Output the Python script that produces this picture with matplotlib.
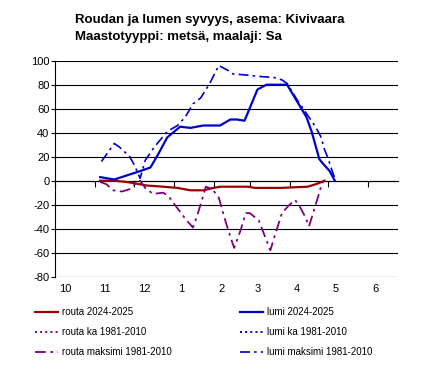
import numpy as np
import matplotlib.pyplot as plt
import matplotlib.transforms as mtransforms

plt.rcParams['font.family'] = ['Liberation Sans', 'DejaVu Sans']
plt.rcParams['axes.unicode_minus'] = False

# x = days since 1 October
month_starts = [0, 31, 61, 92, 123, 151, 182, 212, 243]
month_labels = ['10', '11', '12', '1', '2', '3', '4', '5', '6']

lumi_x = [35, 46, 66, 74, 80, 87, 97, 105, 115, 128, 136, 141, 147, 157, 164,
          180, 195, 199, 205, 208, 213, 217]
lumi_y = [3, 1, 8, 11, 22, 36, 45, 44, 46, 46, 51, 51, 50, 76, 80,
          80, 53, 41, 18, 14, 8, 0]

lumi_max_x = [36, 46, 50, 58, 62, 66, 70, 77, 87, 95, 101, 107, 113, 120, 127,
              134, 138, 149, 157, 170, 176, 180, 188, 195, 202, 206, 209, 212,
              214, 217, 218]
lumi_max_y = [16, 31, 28, 20, 12, 2, 17, 28, 41, 46, 53, 64, 69, 81, 96,
              92, 89, 88, 87, 86, 84, 81, 67, 56, 45, 37, 26, 18,
              11, 2, 0]

lumi_ka_x = []
lumi_ka_y = []

routa_x = [35, 46, 55, 61, 71, 84, 95, 100, 105, 115, 123, 128, 140, 150, 155,
           175, 196, 202, 207, 209]
routa_y = [0, 0, -1, -2, -4, -5, -6, -7, -8, -8, -6, -5, -5, -5, -6,
           -6, -5, -3, -1, 0]

routa_max_x = [35, 40, 45, 52, 58, 62, 66, 70, 76, 84, 88, 95, 102, 107, 110,
               114, 117, 122, 127, 132, 137, 139, 144, 148, 151, 158, 163, 167,
               171, 176, 181, 186, 189, 194, 197, 201, 205, 207, 209]
routa_max_y = [-1, -3, -8, -9, -7, -3, 0, -6, -11, -10, -13, -23, -33, -39, -30,
               -16, -5, -7, -14, -33, -50, -56, -41, -27, -27, -33, -47, -58,
               -44, -27, -21, -16, -20, -30, -38, -24, -10, -2, 0]

routa_ka_x = []
routa_ka_y = []

red = '#990000'
blue = '#0000CC'
purple = '#800080'
dashdot = (0, (6, 2.5, 1.5, 2.5))

fig = plt.figure(figsize=(4.3, 3.76), dpi=100)
ax = fig.add_axes([55 / 430, 1 - 276.7 / 376, (398 - 55) / 430, (276.7 - 60.7) / 376])

l1, = ax.plot(routa_x, routa_y, color=red, lw=1.6, label='routa 2024-2025')
l2, = ax.plot(routa_ka_x, routa_ka_y, color=purple, lw=1.4, ls=':', label='routa ka 1981-2010')
l3, = ax.plot(routa_max_x, routa_max_y, color=purple, lw=1.3, ls=dashdot, label='routa maksimi 1981-2010')
l4, = ax.plot(lumi_x, lumi_y, color=blue, lw=1.6, label='lumi 2024-2025')
l5, = ax.plot(lumi_ka_x, lumi_ka_y, color=blue, lw=1.4, ls=':', label='lumi ka 1981-2010')
l6, = ax.plot(lumi_max_x, lumi_max_y, color=blue, lw=1.2, ls=dashdot, label='lumi maksimi 1981-2010')

ax.set_xlim(0, 266)
ax.set_ylim(-80, 100)
ax.set_yticks(np.arange(-80, 101, 20))
ax.yaxis.grid(True, color='black', lw=0.8)
ax.set_axisbelow(True)
for s in ['right', 'top', 'bottom']:
    ax.spines[s].set_visible(False)
ax.spines['left'].set_linewidth(0.8)
ax.tick_params(axis='y', length=3, width=0.8, pad=1, labelsize=8)

ax.set_xticks(month_starts, month_labels)
ax.tick_params(axis='x', length=0, pad=5, labelsize=8)
offset = mtransforms.ScaledTranslation(4.5 / 100, 0, fig.dpi_scale_trans)
for lbl in ax.get_xticklabels():
    lbl.set_ha('left')
    lbl.set_transform(lbl.get_transform() + offset)

# category axis crossing at zero with month tick marks
sec = ax.secondary_xaxis(80 / 180)
sec.set_xticks(month_starts)
sec.tick_params(axis='x', direction='out', length=4, width=0.8, labelbottom=False, labeltop=False)
sec.spines['bottom'].set_linewidth(0.8)

fig.text(75 / 430, 1 - 20 / 376, 'Roudan ja lumen syvyys, asema: Kivivaara',
         fontsize=9.5, fontweight='bold', va='center', ha='left')
fig.text(75 / 430, 1 - 37 / 376, 'Maastotyyppi: metsä, maalaji: Sa',
         fontsize=9.5, fontweight='bold', va='center', ha='left')

leg_kw = dict(frameon=False, fontsize=7, handlelength=2.4, handletextpad=0.4,
              labelspacing=1.05, borderaxespad=0, borderpad=0, loc='upper left')
fig.legend([l1, l2, l3], [l.get_label() for l in (l1, l2, l3)],
           bbox_to_anchor=(35 / 430, 1 - 307 / 376), **leg_kw)
fig.legend([l4, l5, l6], [l.get_label() for l in (l4, l5, l6)],
           bbox_to_anchor=(240 / 430, 1 - 307 / 376), **leg_kw)

fig.savefig('out.png', dpi=100)
